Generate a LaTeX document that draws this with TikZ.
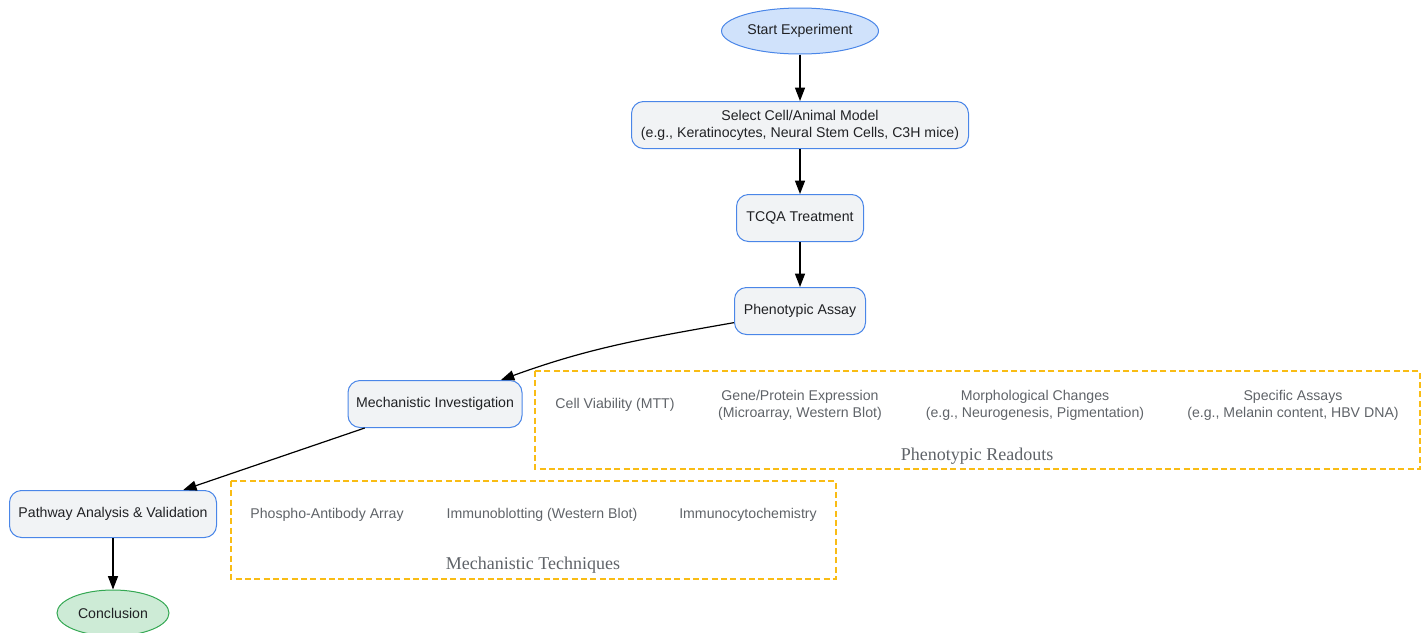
\documentclass[tikz,border=0pt]{standalone}
\usepackage{fontspec}
\setmainfont{Liberation Serif}
\setsansfont{Liberation Sans}
\usetikzlibrary{shapes.geometric,arrows.meta}
\definecolor{stepblue}{HTML}{4A86E8}
\definecolor{stepfill}{HTML}{F1F3F5}
\definecolor{startfill}{HTML}{D0E2FB}
\definecolor{endgreen}{HTML}{34A853}
\definecolor{endfill}{HTML}{CDEBD6}
\definecolor{clusterline}{HTML}{F9BC15}
\definecolor{inktext}{HTML}{202124}
\definecolor{softtext}{HTML}{5F6368}
\begin{document}
\begin{tikzpicture}[
    x=0.75pt, y=-0.75pt,
    stage/.style={draw=stepblue, fill=stepfill, rounded corners=9pt, line width=0.75pt,
                  minimum height=35.25pt, inner sep=0pt, align=center,
                  font=\sffamily\fontsize{10.6}{12.6}\selectfont, text=inktext},
    terminal/.style={ellipse, line width=0.75pt, minimum width=117.75pt, minimum height=34.5pt,
                     inner sep=0pt, font=\sffamily\fontsize{10.6}{12.6}\selectfont, text=inktext},
    readout/.style={align=center, font=\sffamily\fontsize{10.6}{12.6}\selectfont, text=softtext},
    cluster/.style={draw=clusterline, line width=1pt, dash pattern=on 4.5pt off 2.5pt},
    clusterlabel/.style={font=\fontsize{13.5}{16}\selectfont, text=softtext},
    flow/.style={-{Triangle[length=10pt,width=7.5pt]}, line width=0.9pt},
  ]
    \useasboundingbox (0,0) rectangle (1428,632);

    % main flow
    \node[terminal, draw=stepblue, fill=startfill] (start) at (800,31) {Start Experiment};
    \node[stage, minimum width=252.75pt] (model) at (800,125)
        {Select Cell/Animal Model\\(e.g., Keratinocytes, Neural Stem Cells, C3H mice)};
    \node[stage, minimum width=95.25pt]  (treat) at (800,218) {TCQA Treatment};
    \node[stage, minimum width=98.25pt]  (assay) at (800,311) {Phenotypic Assay};
    \node[stage, minimum width=130.5pt]  (mech)  at (435,404) {Mechanistic Investigation};
    \node[stage, minimum width=155.25pt] (path)  at (113,514) {Pathway Analysis \& Validation};
    \node[terminal, draw=endgreen, fill=endfill, minimum width=84pt] (concl) at (113,613) {Conclusion};

    \draw[flow] (start) -- (model);
    \draw[flow] (model) -- (treat);
    \draw[flow] (treat) -- (assay);
    \draw[flow] (assay) to[out=190, in=20] (mech);
    \draw[flow] (mech) -- (path);
    \draw[flow] (path) -- (concl);

    % phenotypic readouts
    \draw[cluster] (535,371) rectangle (1420,469);
    \node[readout] (mtt)   at (615,405)  {Cell Viability (MTT)};
    \node[readout] (gene)  at (800,405)  {Gene/Protein Expression\\(Microarray, Western Blot)};
    \node[readout] (morph) at (1035,405) {Morphological Changes\\(e.g., Neurogenesis, Pigmentation)};
    \node[readout] (spec)  at (1293,405) {Specific Assays\\(e.g., Melanin content, HBV DNA)};
    \node[clusterlabel] (readlbl) at (977,456) {Phenotypic Readouts};

    % mechanistic techniques
    \draw[cluster] (231,481) rectangle (836,579);
    \node[readout] (phospho) at (327,515) {Phospho-Antibody Array};
    \node[readout] (blot)    at (542,515) {Immunoblotting (Western Blot)};
    \node[readout] (icc)     at (748,515) {Immunocytochemistry};
    \node[clusterlabel] (techlbl) at (533,565) {Mechanistic Techniques};
  \end{tikzpicture}
\end{document}
